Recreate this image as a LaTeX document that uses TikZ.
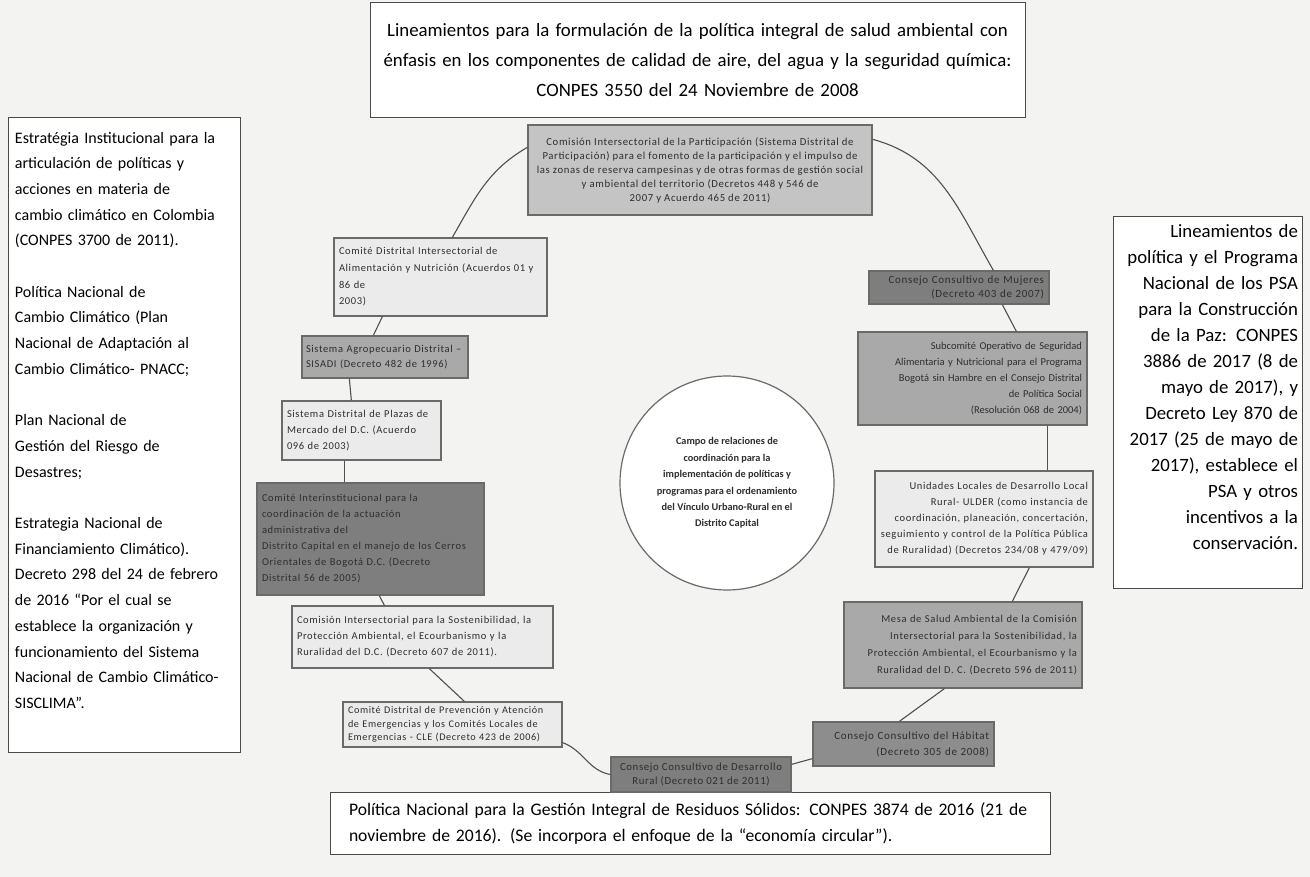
\documentclass[tikz,border=0pt]{standalone}
\usepackage{fontspec}
\setmainfont{Carlito}
\newfontfamily\spc[LetterSpace=6]{Carlito}
\definecolor{paper}{HTML}{F3F3F1}
\definecolor{bigline}{HTML}{4A4A4A}
\definecolor{boxline}{HTML}{6A6A6A}
\definecolor{lightf}{HTML}{EBEBEB}
\definecolor{midf}{HTML}{A9A9A9}
\definecolor{topf}{HTML}{C4C4C4}
\definecolor{darkf}{HTML}{7E7E7E}
\definecolor{txt}{HTML}{2E2E2E}
\definecolor{connc}{HTML}{505050}
\tikzset{
  sbox/.style={draw=boxline, line width=1.3pt, inner xsep=5pt, inner ysep=2pt, text=txt,
    font=\spc\fontsize{10.5}{16}\selectfont},
  lt/.style={sbox, fill=lightf},
  md/.style={sbox, fill=midf},
  dk/.style={sbox, fill=darkf},
  bigbox/.style={draw=bigline, line width=1pt, fill=white, text=black},
  conn/.style={draw=connc, line width=1.1pt}
}
\begin{document}
\begin{tikzpicture}[x=1pt,y=-1pt]
\useasboundingbox[fill=paper] (0,0) rectangle (1310,877);

% big boxes
\node[bigbox, minimum width=655, minimum height=115, text width=645, align=center,
  font=\fontsize{18.8}{30}\selectfont] (TT) at (697.5,60.5)
  {Lineamientos para la formulación de la política integral de salud ambiental con\\
   énfasis en los componentes de calidad de aire, del agua y la seguridad química:\\
   CONPES 3550 del 24 Noviembre de 2008};

\node[bigbox, minimum width=232, minimum height=634, text width=218, align=left,
  font=\fontsize{16}{25.7}\selectfont] (LB) at (124,435)
  {Estratégia Institucional para la\\
   articulación de políticas y\\
   acciones en materia de\\
   cambio climático en Colombia\\
   (CONPES 3700 de 2011).\\[25.7pt]
   Política Nacional de\\
   Cambio Climático (Plan\\
   Nacional de Adaptación al\\
   Cambio Climático- PNACC;\\[25.7pt]
   Plan Nacional de\\
   Gestión del Riesgo de\\
   Desastres;\\[25.7pt]
   Estrategia Nacional de\\
   Financiamiento Climático).\\
   Decreto 298 del 24 de febrero\\
   de 2016 “Por el cual se\\
   establece la organización y\\
   funcionamiento del Sistema\\
   Nacional de Cambio Climático-\\
   SISCLIMA”.\\[4pt]\mbox{}};

\node[bigbox, minimum width=189, minimum height=371, text width=181, align=right,
  font=\fontsize{18.8}{26}\selectfont] (RB) at (1207.5,402.5)
  {Lineamientos de\\
   política y el Programa\\
   Nacional de los PSA\\
   para la Construcción\\
   de la Paz: CONPES\\
   3886 de 2017 (8 de\\
   mayo de 2017), y\\
   Decreto Ley 870 de\\
   2017 (25 de mayo de\\
   2017), establece el\\
   PSA y otros\\
   incentivos a la\\
   conservación.\\[6pt]\mbox{}};

\node[bigbox, minimum width=720, minimum height=62, text width=682, align=left,
  font=\fontsize{17.6}{26}\selectfont] (BB) at (690,823)
  {Política Nacional para la Gestión Integral de Residuos Sólidos: CONPES 3874 de 2016 (21 de\\
   noviembre de 2016). (Se incorpora el enfoque de la “economía circular”).};

% centre
\node[circle, draw=boxline, line width=1.2pt, fill=white, minimum size=214, inner sep=0pt,
  align=center, text=txt, font=\bfseries\fontsize{10.3}{16.4}\selectfont] (CC) at (727,483)
  {Campo de relaciones de\\
   coordinación para la\\
   implementación de políticas y\\
   programas para el ordenamiento\\
   del Vínculo Urbano-Rural en el\\
   Distrito Capital};

% ring of boxes
\node[sbox, fill=topf, minimum width=344, minimum height=90, align=center,
  font=\spc\fontsize{10.7}{14}\selectfont] (T) at (700,170)
  {Comisión Intersectorial de la Participación (Sistema Distrital de\\
   Participación) para el fomento de la participación y el impulso de\\
   las zonas de reserva campesinas y de otras formas de gestión social\\
   y ambiental del territorio (Decretos 448 y 546 de\\
   2007 y Acuerdo 465 de 2011)};

\node[dk, minimum width=180, minimum height=33, text width=170, align=right,
  font=\spc\fontsize{11}{13.5}\selectfont] (M) at (959,287.5)
  {Consejo Consultivo de Mujeres\\ (Decreto 403 de 2007)};

\node[md, minimum width=229, minimum height=93, text width=219, align=right,
  font=\fontsize{10.5}{16}\selectfont] (S) at (972.5,378.5)
  {Subcomité Operativo de Seguridad\\
   Alimentaria y Nutricional para el Programa\\
   Bogotá sin Hambre en el Consejo Distrital\\
   de Política Social\\
   (Resolución 068 de 2004)};

\node[lt, minimum width=218, minimum height=96, text width=208, align=right] (U) at (984,519)
  {Unidades Locales de Desarrollo Local\\
   Rural- ULDER (como instancia de\\
   coordinación, planeación, concertación,\\
   seguimiento y control de la Política Pública\\
   de Ruralidad) (Decretos 234/08 y 479/09)};

\node[md, minimum width=238, minimum height=86, text width=228, align=right,
  font=\spc\fontsize{10.5}{17}\selectfont] (Me) at (963,645)
  {Mesa de Salud Ambiental de la Comisión\\
   Intersectorial para la Sostenibilidad, la\\
   Protección Ambiental, el Ecourbanismo y la\\
   Ruralidad del D. C. (Decreto 596 de 2011)};

\node[dk, fill=darkf!88!white, minimum width=181, minimum height=44, text width=171, align=right,
  font=\spc\fontsize{11}{16}\selectfont] (H) at (903.5,744)
  {Consejo Consultivo del Hábitat\\ (Decreto 305 de 2008)};

\node[lt, minimum width=219, minimum height=45, text width=209, align=left,
  font=\spc\fontsize{10.2}{13.5}\selectfont] (P) at (452.5,724.5)
  {Comité Distrital de Prevención y Atención\\
   de Emergencias y los Comités Locales de\\
   Emergencias - CLE (Decreto 423 de 2006)};

\node[lt, minimum width=261, minimum height=62, text width=251, align=left] (Sos) at (422.5,637)
  {Comisión Intersectorial para la Sostenibilidad, la\\
   Protección Ambiental, el Ecourbanismo y la\\
   Ruralidad del D.C. (Decreto 607 de 2011).};

\node[dk, minimum width=227, minimum height=112, text width=217, align=left] (I) at (370.5,539)
  {Comité Interinstitucional para la\\
   coordinación de la actuación\\
   administrativa del\\
   Distrito Capital en el manejo de los Cerros\\
   Orientales de Bogotá D.C. (Decreto\\
   Distrital 56 de 2005)};

\node[lt, minimum width=159, minimum height=59, text width=149, align=left] (Pl) at (361.5,430.5)
  {Sistema Distrital de Plazas de\\
   Mercado del D.C. (Acuerdo\\
   096 de 2003)};

\node[md, minimum width=166, minimum height=42, text width=158, inner xsep=4pt, align=left,
  font=\spc\fontsize{10.5}{15}\selectfont] (A) at (385,357)
  {Sistema Agropecuario Distrital –\\
   SISADI (Decreto 482 de 1996)};

\node[lt, minimum width=213, minimum height=78, text width=203, align=left,
  font=\spc\fontsize{10.5}{16.7}\selectfont] (Al) at (440.5,277)
  {Comité Distrital Intersectorial de\\
   Alimentación y Nutrición (Acuerdos 01 y\\
   86 de\\
   2003)};

% drawn after the bottom box so it sits on top of it
\node[dk, minimum width=180, minimum height=35, align=center,
  font=\spc\fontsize{10.8}{14}\selectfont] (R) at (701,774.5)
  {Consejo Consultivo de Desarrollo\\ Rural (Decreto 021 de 2011)};

% connectors around the ring
\draw[conn] ([yshift=-15]T.north east) to[out=-15,in=120] ([xshift=125]M.north west);
\draw[conn] ([xshift=134]M.south west) -- ([xshift=159]S.north west);
\draw[conn] ([xshift=190]S.south west) -- ([xshift=173]U.north west);
\draw[conn] ([xshift=155]U.south west) -- ([xshift=169]Me.north west);
\draw[conn] ([xshift=101]Me.south west) -- ([xshift=87]H.north west);
\draw[conn] ([yshift=8]H.south west) -- ([yshift=-8]R.north east);
\draw[conn] (R.west) to[out=170,in=-20] ([yshift=5]P.south east);
\draw[conn] ([xshift=122]P.north west) -- ([xshift=138]Sos.south west);
\draw[conn] ([xshift=93]Sos.north west) -- ([xshift=123]I.south west);
\draw[conn] ([xshift=88]I.north west) -- ([xshift=63]Pl.south west);
\draw[conn] ([xshift=70]Pl.north west) -- ([xshift=48]A.south west);
\draw[conn] ([xshift=72]A.north west) -- ([xshift=49]Al.south west);
\draw[conn] ([xshift=119]Al.north west) to[out=60,in=-150] ([yshift=-23]T.north west);
\end{tikzpicture}
\end{document}
